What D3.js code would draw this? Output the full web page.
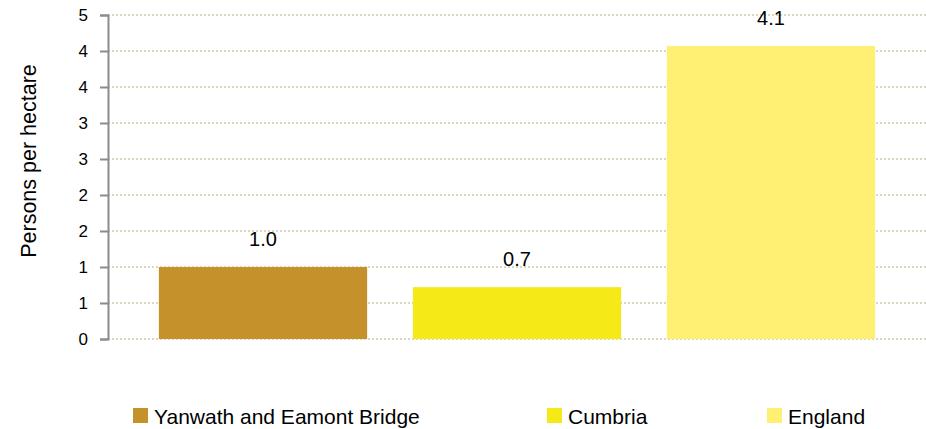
<!DOCTYPE html>
<meta charset="utf-8">
<script src="https://d3js.org/d3.v7.min.js"></script>
<style>
  body { margin: 0; background: #fff; }
  text { font-family: "Liberation Sans", Arial, sans-serif; fill: #000; }
</style>
<body>
<script>

// DATA

var categories = ["Yanwath and Eamont Bridge", "Cumbria", "England"];
var values = [1.0, 0.72, 4.07];
var valueLabels = ["1.0", "0.7", "4.1"];
var colors = ["#C4912B", "#F5E917", "#FFF073"];
var yTicks = [0, 0.5, 1, 1.5, 2, 2.5, 3, 3.5, 4, 4.5];
var legendX = [133, 547, 767];

var width = 926;
var height = 429;

var svg = d3.select("body")
  .append("svg")
  .attr("width", width)
  .attr("height", height);

// SCALES

var yScale = d3.scaleLinear()
  .domain([0, 4.5])
  .range([339, 15]);

var xScale = d3.scaleBand()
  .domain(categories)
  .range([136, 898])
  .paddingInner(0.18)
  .paddingOuter(0.09);

// GRIDLINES

svg.append("g")
  .selectAll("line")
  .data(yTicks)
  .enter()
  .append("line")
    .attr("x1", 108)
    .attr("x2", width)
    .attr("y1", function (d) { return yScale(d); })
    .attr("y2", function (d) { return yScale(d); })
    .attr("stroke", "#DCD6C0")
    .attr("stroke-width", 2)
    .attr("stroke-dasharray", "2,2");

// BARS

svg.append("g")
  .selectAll("rect")
  .data(values)
  .enter()
  .append("rect")
    .attr("x", function (d, i) { return xScale(categories[i]); })
    .attr("y", function (d) { return yScale(d); })
    .attr("width", xScale.bandwidth())
    .attr("height", function (d) { return yScale(0) - yScale(d); })
    .attr("fill", function (d, i) { return colors[i]; });

// VALUE LABELS

svg.append("g")
  .selectAll("text")
  .data(values)
  .enter()
  .append("text")
    .attr("x", function (d, i) { return xScale(categories[i]) + xScale.bandwidth() / 2; })
    .attr("y", function (d) { return yScale(d) - 21; })
    .attr("text-anchor", "middle")
    .style("font-size", "20px")
    .text(function (d, i) { return valueLabels[i]; });

// Y AXIS

var yAxis = svg.append("g")
  .attr("transform", "translate(108,0)")
  .call(d3.axisLeft(yScale)
    .tickValues(yTicks)
    .tickSize(8)
    .tickPadding(12)
    .tickFormat(function (d) { return Math.round(d); }));

yAxis.select(".domain")
  .attr("stroke", "#8C8C8C")
  .attr("stroke-width", 2);

yAxis.selectAll(".tick line")
  .attr("stroke", "#8C8C8C")
  .attr("stroke-width", 2);

yAxis.selectAll(".tick text")
  .style("font-size", "17px")
  .style("font-family", "'Liberation Sans', Arial, sans-serif")
  .attr("fill", "#000");

// AXIS TITLE

svg.append("text")
  .attr("text-anchor", "middle")
  .attr("transform", "translate(36,161)rotate(-90)")
  .style("font-size", "21.5px")
  .text("Persons per hectare");

// LEGEND

var legend = svg.append("g")
  .selectAll("g")
  .data(categories)
  .enter()
  .append("g")
    .attr("transform", function (d, i) { return "translate(" + legendX[i] + ",408)"; });

legend.append("rect")
  .attr("width", 15)
  .attr("height", 15)
  .attr("fill", function (d, i) { return colors[i]; });

legend.append("text")
  .attr("x", 21)
  .attr("y", 16)
  .style("font-size", "21px")
  .text(function (d) { return d; });

</script>
</body>
